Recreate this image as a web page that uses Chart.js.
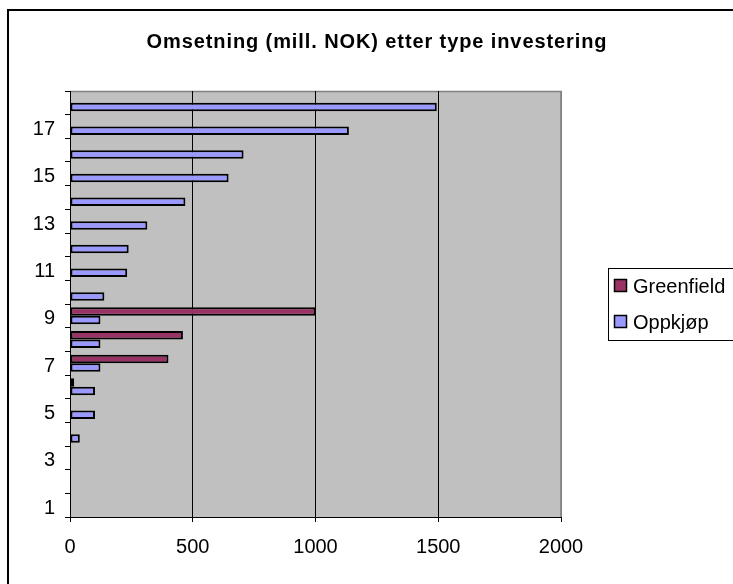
<!DOCTYPE html>
<html><head><meta charset="utf-8">
<script src="https://cdn.jsdelivr.net/npm/chart.js@4.4.1/dist/chart.umd.min.js"></script>
<style>html,body{margin:0;padding:0;background:#fff;overflow:hidden}#wrap{width:733px;height:584px;position:relative}</style>
</head><body><div id="wrap"><canvas id="c" width="733" height="584"></canvas></div>
<script>
// ---- data ----
const categories = ['1','2','3','4','5','6','7','8','9','10','11','12','13','14','15','16','17','18'];
const greenfield = [null,null,null,null,null,17,401,460,1000,null,null,null,null,null,null,null,null,null];
const oppkjop    = [null,null,null,40,102,102,124,124,124,140,233,239,315,470,646,707,1136,1494];
const shownTickLabels = ['1','3','5','7','9','11','13','15','17'];
const seriesNames = ['Greenfield','Oppkjøp'];
const seriesColors = ['#993366','#9999FF'];
const titleText = 'Omsetning (mill. NOK) etter type investering';

const FONT = "'Liberation Sans', Arial, sans-serif";

const plotBg = {
  id:'plotBg',
  beforeDraw(chart){
    const {ctx, chartArea:a} = chart;
    ctx.save();
    ctx.fillStyle='#fff'; ctx.fillRect(0,0,chart.width,chart.height);
    ctx.fillStyle='#C0C0C0'; ctx.fillRect(a.left,a.top,a.right-a.left,a.bottom-a.top);
    ctx.strokeStyle='#808080'; ctx.lineWidth=1.5;
    ctx.beginPath(); ctx.moveTo(a.left,a.top+0.5); ctx.lineTo(a.right,a.top+0.5); ctx.lineTo(a.right,a.bottom); ctx.stroke();
    ctx.restore();
  }
};

const decor = {
  id:'decor',
  afterDraw(chart){
    const ctx = chart.ctx;
    ctx.save();
    // outer frame
    ctx.strokeStyle='#000'; ctx.lineWidth=2;
    ctx.beginPath(); ctx.moveTo(8,590); ctx.lineTo(8,10); ctx.lineTo(740,10); ctx.stroke();
    // title
    ctx.fillStyle='#000'; ctx.font="bold 20px "+FONT; ctx.textAlign='center'; ctx.textBaseline='middle';
    try { ctx.letterSpacing='0.9px'; } catch(e) {}
    ctx.fillText(titleText, 377, 42);
    try { ctx.letterSpacing='0px'; } catch(e) {}
    // legend
    ctx.lineWidth=1; ctx.strokeStyle='#000';
    ctx.strokeRect(608.5,268.5,200,72);
    ctx.font="20px "+FONT; ctx.textAlign='left';
    const ys=[286,322];
    seriesNames.forEach((n,i)=>{
      ctx.fillStyle=seriesColors[i]; ctx.fillRect(614.5,ys[i]-6.5,12,12);
      ctx.lineWidth=1.5; ctx.strokeRect(614.5,ys[i]-6.5,12,12);
      ctx.fillStyle='#000'; ctx.fillText(n,633,ys[i]+1);
    });
    ctx.restore();
  }
};

new Chart(document.getElementById('c'), {
  type:'bar',
  data:{
    labels: categories,
    datasets:[
      {label:seriesNames[0], data:greenfield, backgroundColor:seriesColors[0], borderColor:'#000', borderWidth:2, borderSkipped:false},
      {label:seriesNames[1], data:oppkjop, backgroundColor:seriesColors[1], borderColor:'#000', borderWidth:2, borderSkipped:false}
    ]
  },
  options:{
    indexAxis:'y', responsive:false, animation:false, devicePixelRatio:1,
    categoryPercentage: 0.72, barPercentage: 1,
    layout:{padding:{left:0,right:172,top:91,bottom:17}},
    plugins:{legend:{display:false}, title:{display:false}, tooltip:{enabled:false}},
    scales:{
      x:{
        min:0, max:2000,
        ticks:{stepSize:500, color:'#000', font:{family:FONT,size:20}, padding:13, callback:(v)=>String(v)},
        grid:{color:(c)=> (c.tick && c.tick.value===2000) ? '#808080' : '#000', lineWidth:1, tickLength:5, tickColor:'#000'},
        border:{color:'#000', width:1},
        afterFit:(s)=>{s.height=50;}
      },
      y:{
        reverse:true,
        ticks:{autoSkip:false, color:'#000', font:{family:FONT,size:20}, padding:10, labelOffset:3,
          callback:(v,i)=> shownTickLabels.includes(categories[i]) ? categories[i] : ''},
        grid:{offset:true, drawOnChartArea:false, tickLength:5, tickColor:'#000'},
        border:{color:'#000', width:1},
        afterFit:(s)=>{s.width=70;}
      }
    }
  },
  plugins:[plotBg, decor]
});
</script></body></html>
